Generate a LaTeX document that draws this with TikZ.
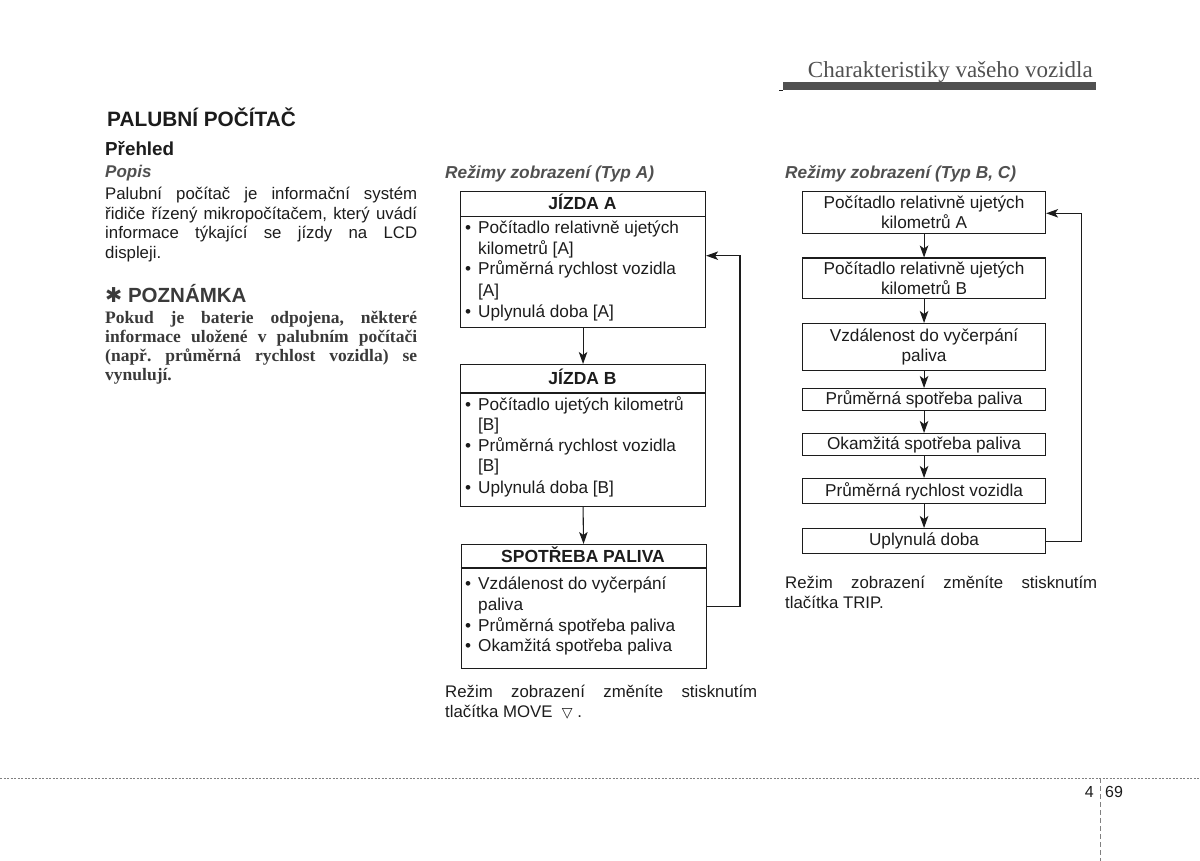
\documentclass[tikz,border=0pt]{standalone}
\usepackage{fontspec}
\setmainfont{Liberation Sans}
\newfontfamily\serifff{Liberation Serif}
\newfontfamily\symff{DejaVu Sans}
\usetikzlibrary{arrows.meta}
\frenchspacing
\definecolor{ink}{HTML}{1C1C1C}
\definecolor{grayink}{HTML}{505050}
\definecolor{notegray}{HTML}{3A3A3A}
\tikzset{
  txt/.style={inner sep=0pt, anchor=base west, text=ink, font=\fontsize{16.8}{20}\selectfont},
  btxt/.style={inner sep=0pt, anchor=base west, text=ink, font=\fontsize{17.2}{20.7}\selectfont},
  hdr/.style={inner sep=0pt, anchor=base, text=ink, font=\bfseries\fontsize{17.5}{20}\selectfont},
  notetxt/.style={inner sep=0pt, anchor=base west, text=notegray, font=\serifff\bfseries\fontsize{17.5}{19}\selectfont},
  panel/.style={draw=ink, line width=1.1pt, anchor=north west, inner sep=0pt, minimum width=245pt},
  rbox/.style={draw=ink, line width=1.1pt, anchor=north west, inner sep=0pt, minimum width=243pt, align=center, text=ink, font=\fontsize{17.2}{20}\selectfont},
  arr/.style={draw=ink, line width=1.1pt, -{Stealth[length=12pt,width=8.5pt,inset=3pt]}},
  link/.style={draw=ink, line width=1.1pt},
}
\begin{document}
\begin{tikzpicture}[x=1pt,y=-1pt]
\useasboundingbox (0,0) rectangle (1200,861);
% header
\node[inner sep=0pt, anchor=base east, text=grayink, font=\serifff\fontsize{23}{24}\selectfont] (head) at (1093,78) {Charakteristiky vašeho vozidla};
\fill[grayink] (783,82.5) rectangle (1096,90.5);
\draw[ink, line width=0.8pt] (779,90) -- (783,90);
% left column
\node[inner sep=0pt, anchor=base west, text=ink, font=\bfseries\fontsize{20.8}{22}\selectfont] (title) at (107,126.5) {PALUBNÍ POČÍTAČ};
\node[inner sep=0pt, anchor=base west, text=ink, font=\bfseries\fontsize{18.8}{20}\selectfont] (sub) at (105,155.5) {Přehled};
\node[inner sep=0pt, anchor=base west, text=grayink, font=\bfseries\itshape\fontsize{17}{20}\selectfont] (popis) at (105,178) {Popis};
\node[txt] (p1) at (105,199.5) {\makebox[312pt][s]{Palubní počítač je informační systém}};
\node[txt] (p2) at (105,219.5) {\makebox[312pt][s]{řidiče řízený mikropočítačem, který uvádí}};
\node[txt] (p3) at (105,239) {\makebox[312pt][s]{informace týkající se jízdy na LCD}};
\node[txt] (p4) at (105,258.5) {displeji.};
\node[inner sep=0pt, anchor=base west, text=notegray, font=\bfseries\fontsize{20.5}{22}\selectfont] (note) at (105,302) {{\symff ✱} POZNÁMKA};
\node[notetxt] (n1) at (105,323.5) {\makebox[312pt][s]{Pokud je baterie odpojena, některé}};
\node[notetxt] (n2) at (105,342.5) {\makebox[312pt][s]{informace uložené v palubním počítači}};
\node[notetxt] (n3) at (105,361.5) {\makebox[312pt][s]{(např. průměrná rychlost vozidla) se}};
\node[notetxt] (n4) at (105,380.5) {vynulují.};
% middle column
\node[inner sep=0pt, anchor=base west, text=grayink, font=\bfseries\itshape\fontsize{17.3}{20}\selectfont] (tA) at (445,178.5) {Režimy zobrazení (Typ A)};
\node[panel, minimum height=136pt] (A) at (460,191) {};
\draw[link] (460,216.7) -- (705,216.7);
\node[hdr] (Ah) at (582.5,210) {JÍZDA A};
\node[btxt] (a1) at (465,234) {•};
\node[btxt] (a1t) at (478,234) {Počítadlo relativně ujetých};
\node[btxt] (a2t) at (478,254.5) {kilometrů [A]};
\node[btxt] (a3) at (465,275) {•};
\node[btxt] (a3t) at (478,275) {Průměrná rychlost vozidla};
\node[btxt] (a4t) at (478,296) {[A]};
\node[btxt] (a5) at (465,317) {•};
\node[btxt] (a5t) at (478,317) {Uplynulá doba [A]};

\node[panel, minimum height=142pt] (B) at (460,364) {};
\draw[link] (460,393) -- (705,393);
\node[hdr] (Bh) at (582.5,384.5) {JÍZDA B};
\node[btxt] (b1) at (465,410.5) {•};
\node[btxt] (b1t) at (478,410.5) {Počítadlo ujetých kilometrů};
\node[btxt] (b2t) at (478,430.5) {[B]};
\node[btxt] (b3) at (465,451) {•};
\node[btxt] (b3t) at (478,451) {Průměrná rychlost vozidla};
\node[btxt] (b4t) at (478,471.5) {[B]};
\node[btxt] (b5) at (465,493) {•};
\node[btxt] (b5t) at (478,493) {Uplynulá doba [B]};

\node[panel, minimum height=123.7pt] (C) at (460.5,544) {};
\draw[link] (460.5,568) -- (705.5,568);
\node[hdr] (Ch) at (583,562) {SPOTŘEBA PALIVA};
\node[btxt] (c1) at (465,589.5) {•};
\node[btxt] (c1t) at (478,589.5) {Vzdálenost do vyčerpání};
\node[btxt] (c2t) at (478,610) {paliva};
\node[btxt] (c3) at (465,631) {•};
\node[btxt] (c3t) at (478,631) {Průměrná spotřeba paliva};
\node[btxt] (c5) at (465,651.5) {•};
\node[btxt] (c5t) at (478,651.5) {Okamžitá spotřeba paliva};

\draw[arr] (A.south) -- (B.north);
\draw[arr] (B.south) -- (C.north);
\coordinate (ll) at (740,0);
\coordinate (la) at (0,255.7);
\draw[arr] (C.east) -| (ll |- la) -- (A.east |- la);

\node[txt] (m1) at (445,697) {\makebox[312pt][s]{Režim zobrazení změníte stisknutím}};
\node[txt] (m2) at (445,717) {tlačítka MOVE~~{\symff\fontsize{14}{15}\selectfont ▽} .};

% right column
\node[inner sep=0pt, anchor=base west, text=grayink, font=\bfseries\itshape\fontsize{17.3}{20}\selectfont] (tB) at (785,178.5) {Režimy zobrazení (Typ B, C)};
\node[rbox, minimum height=42pt] (r1) at (802,191) {Počítadlo relativně ujetých\\kilometrů A};
\node[rbox, minimum height=40.5pt] (r2) at (802,257.5) {Počítadlo relativně ujetých\\kilometrů B};
\node[rbox, minimum height=47pt] (r3) at (802,323) {Vzdálenost do vyčerpání\\paliva};
\node[rbox, minimum height=22pt] (r4) at (802,388) {Průměrná spotřeba paliva};
\node[rbox, minimum height=22pt] (r5) at (802,433) {Okamžitá spotřeba paliva};
\node[rbox, minimum height=25pt] (r6) at (802,478) {Průměrná rychlost vozidla};
\node[rbox, minimum height=25pt] (r7) at (802,528) {Uplynulá doba};
\draw[arr] (r1) -- (r2);
\draw[arr] (r2) -- (r3);
\draw[arr] (r3) -- (r4);
\draw[arr] (r4) -- (r5);
\draw[arr] (r5) -- (r6);
\draw[arr] (r6) -- (r7);
\coordinate (rl) at (1081.7,0);
\coordinate (ra) at (0,213.3);
\draw[arr] (r7.east) -| (rl |- ra) -- (r1.east |- ra);

\node[txt] (q1) at (785,588.5) {\makebox[312pt][s]{Režim zobrazení změníte stisknutím}};
\node[txt] (q2) at (785,608) {tlačítka TRIP.};

% footer
\draw[gray, line width=1pt, dash pattern=on 2pt off 1.5pt] (0,778) -- (1200,778);
\draw[gray, line width=0.8pt, dash pattern=on 5pt off 3pt] (1100,778) -- (1100,861);
\node[inner sep=0pt, anchor=base east, text=ink, font=\fontsize{16}{18}\selectfont] (pg1) at (1094,797) {4};
\node[inner sep=0pt, anchor=base west, text=ink, font=\fontsize{16}{18}\selectfont] (pg2) at (1105,797) {69};
\end{tikzpicture}
\end{document}
